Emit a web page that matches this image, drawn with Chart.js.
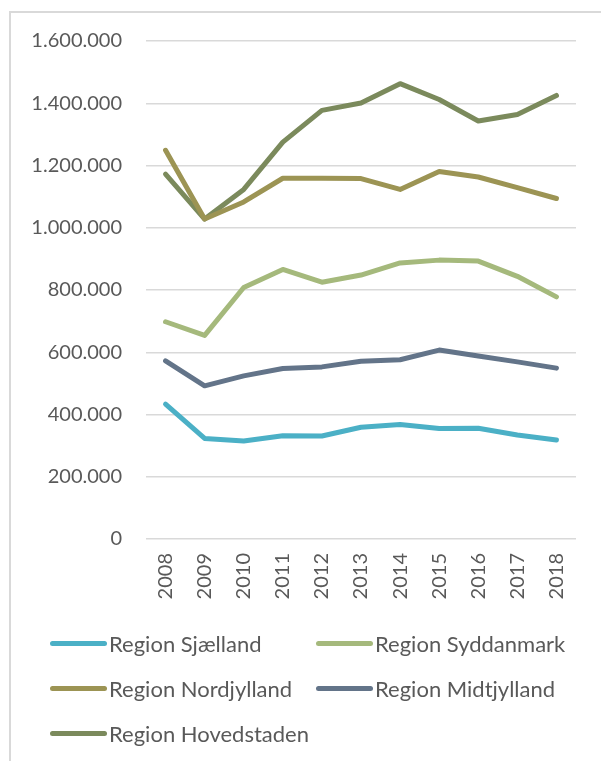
<!DOCTYPE html>
<html>
<head>
<meta charset="utf-8">
<script src="https://cdn.jsdelivr.net/npm/chart.js@4/dist/chart.umd.min.js"></script>
<style>
  html, body { margin: 0; padding: 0; background: #fff; }
  body { width: 601px; height: 761px; position: relative; overflow: hidden; font-family: Lato, "Open Sans", sans-serif; }
  #frame { position: absolute; left: 9px; top: 11px; width: 700px; height: 800px; border-left: 2px solid #D9D9D9; border-top: 2px solid #D9D9D9; box-sizing: border-box; }
  #c { position: absolute; left: 0; top: 0; }
  .lg { position: absolute; display: flex; align-items: center; color: #595959; font-size: 22px; white-space: nowrap; }
  .lg span.sw { display: inline-block; width: 57px; height: 5px; border-radius: 3px; margin-right: 2px; }
</style>
</head>
<body>
<div id="frame"></div>
<canvas id="c" width="601" height="761"></canvas>
<div id="legend"></div>
<script>
const years = ["2008","2009","2010","2011","2012","2013","2014","2015","2016","2017","2018"];
const seriesNames = ["Region Sjælland","Region Syddanmark","Region Nordjylland","Region Midtjylland","Region Hovedstaden"];
const sjaelland   = [433000, 323000, 315000, 332000, 331000, 359000, 368000, 355000, 356000, 334000, 318000];
const syddanmark  = [698000, 654000, 808000, 866000, 825000, 848000, 887000, 896000, 893000, 844000, 778000];
const nordjylland = [1249000, 1028000, 1083000, 1159000, 1159000, 1158000, 1123000, 1181000, 1163000, 1129000, 1094000];
const midtjylland = [572000, 492000, 524000, 548000, 553000, 571000, 576000, 607000, 588000, 569000, 549000];
const hovedstaden = [1172000, 1028000, 1123000, 1275000, 1377000, 1401000, 1463000, 1412000, 1343000, 1364000, 1425000];
const seriesColors = ["#4BB0C6","#A5B97C","#9C9454","#637489","#7B8A5C"];
const yMin = 0, yMax = 1600000, yStep = 200000;

function fmt(v) { return String(v).replace(/\B(?=(\d{3})+(?!\d))/g, "."); }

const values = [sjaelland, syddanmark, nordjylland, midtjylland, hovedstaden];
const datasets = values.map((d, i) => ({
  label: seriesNames[i],
  data: d,
  borderColor: seriesColors[i],
  backgroundColor: seriesColors[i],
  borderWidth: 5,
  pointRadius: 0,
  borderCapStyle: 'round',
  borderJoinStyle: 'round',
  tension: 0,
  fill: false
}));

const FONT = { family: "Lato, 'Open Sans', sans-serif", size: 20 };

new Chart(document.getElementById('c'), {
  type: 'line',
  data: { labels: years, datasets },
  options: {
    responsive: false,
    animation: false,
    layout: { padding: { top: 41, right: 25, left: 0, bottom: 0 } },
    plugins: { legend: { display: false }, tooltip: { enabled: false } },
    scales: {
      x: {
        offset: true,
        grid: { display: false, drawTicks: false },
        border: { display: false },
        ticks: { color: '#595959', font: FONT, minRotation: 90, maxRotation: 90, padding: 14, autoSkip: false },
        afterFit: s => { s.height = 222; }
      },
      y: {
        min: yMin, max: yMax,
        grid: { color: '#D9D9D9', lineWidth: 1.5, drawTicks: false },
        border: { display: false },
        ticks: { stepSize: yStep, color: '#595959', font: FONT, padding: 24, callback: v => fmt(v) },
        afterFit: s => { s.width = 146; }
      }
    }
  }
});

// HTML legend built from the series arrays
const legendPos = [[50, 643], [316, 643], [50, 688], [316, 688], [50, 733]];
const lg = document.getElementById('legend');
seriesNames.forEach((n, i) => {
  const d = document.createElement('div');
  d.className = 'lg';
  d.style.left = legendPos[i][0] + 'px';
  d.style.top = (legendPos[i][1] - 14) + 'px';
  d.style.height = '28px';
  const sw = document.createElement('span');
  sw.className = 'sw';
  sw.style.background = seriesColors[i];
  const t = document.createElement('span');
  t.textContent = n;
  d.appendChild(sw); d.appendChild(t);
  lg.appendChild(d);
});
</script>
</body>
</html>
